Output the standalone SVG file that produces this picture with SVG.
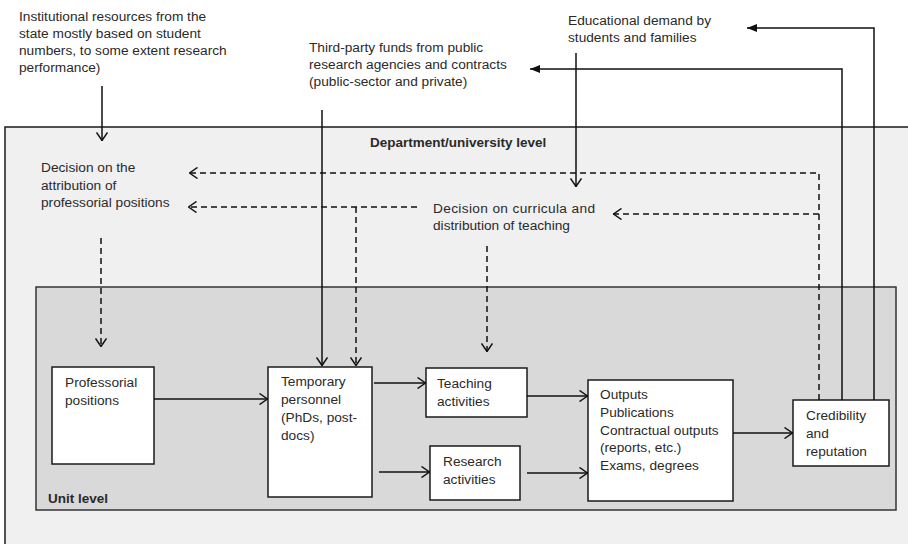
<svg xmlns="http://www.w3.org/2000/svg" width="908" height="544" viewBox="0 0 908 544">
<style>
text{font-family:"Liberation Sans",Arial,sans-serif;font-size:13.7px;fill:#2a2a2a}
.b{font-weight:bold;font-size:13.5px}
.box{fill:#fff;stroke:#1a1a1a;stroke-width:1.5}
.ln{fill:none;stroke:#111;stroke-width:1.5}
.open{marker-end:url(#open)}
.fill{marker-end:url(#tri)}
.d{stroke-dasharray:6 4}
</style>
<defs>
<marker id="open" viewBox="0 0 9 12" refX="9" refY="6" markerWidth="9" markerHeight="12" markerUnits="userSpaceOnUse" orient="auto">
<path d="M0.5,0.5 L8.5,6 L0.5,11.5" fill="none" stroke="#111" stroke-width="1.5" stroke-dasharray="none"/>
</marker>
<marker id="tri" viewBox="0 0 10 8" refX="10" refY="4" markerWidth="10" markerHeight="8" markerUnits="userSpaceOnUse" orient="auto">
<path d="M0,0 L10,4 L0,8 z" fill="#111"/>
</marker>
</defs>
<rect width="908" height="544" fill="#fff"/>
<g id="department-level">
<rect x="5" y="127" width="930" height="440" fill="#f0f0f0" stroke="#1a1a1a" stroke-width="1.5"/>
<text class="b" x="370" y="147">Department/university level</text>
</g>
<g id="unit-level">
<rect x="36" y="287" width="860" height="223" fill="#d9d9d9" stroke="#333" stroke-width="1.5"/>
<text class="b" x="48" y="503">Unit level</text>
</g>
<g id="institutional-resources">
<text x="19" y="21">Institutional resources from the</text>
<text x="19" y="38">state mostly based on student</text>
<text x="19" y="55">numbers, to some extent research</text>
<text x="19" y="72">performance)</text>
</g>
<g id="third-party-funds">
<text x="309" y="52">Third-party funds from public</text>
<text x="309" y="69">research agencies and contracts</text>
<text x="309" y="86">(public-sector and private)</text>
</g>
<g id="educational-demand">
<text x="568" y="25">Educational demand by</text>
<text x="568" y="42">students and families</text>
</g>
<g id="decision-professorial">
<text x="41" y="172">Decision on the</text>
<text x="41" y="190">attribution of</text>
<text x="41" y="207">professorial positions</text>
</g>
<g id="decision-curricula">
<text x="433" y="213" textLength="162" lengthAdjust="spacing">Decision on curricula and</text>
<text x="433" y="230">distribution of teaching</text>
</g>
<g id="professorial-positions">
<rect class="box" x="52" y="367" width="102" height="97"/>
<text x="65" y="387">Professorial</text>
<text x="65" y="405">positions</text>
</g>
<g id="temporary-personnel">
<rect class="box" x="268" y="367" width="104" height="130"/>
<text x="281" y="386">Temporary</text>
<text x="281" y="404">personnel</text>
<text x="281" y="422">(PhDs, post-</text>
<text x="281" y="440">docs)</text>
</g>
<g id="teaching-activities">
<rect class="box" x="426" y="368" width="101" height="49"/>
<text x="437" y="388">Teaching</text>
<text x="437" y="406">activities</text>
</g>
<g id="research-activities">
<rect class="box" x="430" y="446" width="90" height="54"/>
<text x="443" y="466">Research</text>
<text x="443" y="484">activities</text>
</g>
<g id="outputs">
<rect class="box" x="588" y="380" width="145" height="121"/>
<text x="600" y="399">Outputs</text>
<text x="600" y="417">Publications</text>
<text x="600" y="435">Contractual outputs</text>
<text x="600" y="452">(reports, etc.)</text>
<text x="600" y="470">Exams, degrees</text>
</g>
<g id="credibility">
<rect class="box" x="793" y="400" width="96" height="66"/>
<text x="806" y="420">Credibility</text>
<text x="806" y="438">and</text>
<text x="806" y="456">reputation</text>
</g>
<g id="connectors">
<path class="ln open" d="M102,86 V141"/>
<path class="ln open" d="M322,110 V366"/>
<path class="ln open" d="M576,53 V187"/>
<path class="ln open d" d="M819,400 V173 H189"/>
<path class="ln open d" d="M819,214 H613"/>
<path class="ln open d" d="M417,207 H188"/>
<path class="ln open d" d="M356,207 V366"/>
<path class="ln open d" d="M101,238 V347"/>
<path class="ln open d" d="M487,246 V352"/>
<path class="ln fill" d="M842,400 V69 H530"/>
<path class="ln fill" d="M874,400 V28 H747"/>
<path class="ln open" d="M154,399 H268"/>
<path class="ln open" d="M374,383 H426"/>
<path class="ln open" d="M379,472 H430"/>
<path class="ln open" d="M527,396 H588"/>
<path class="ln open" d="M527,473 H588"/>
<path class="ln open" d="M733,433 H793"/>
</g>
</svg>
